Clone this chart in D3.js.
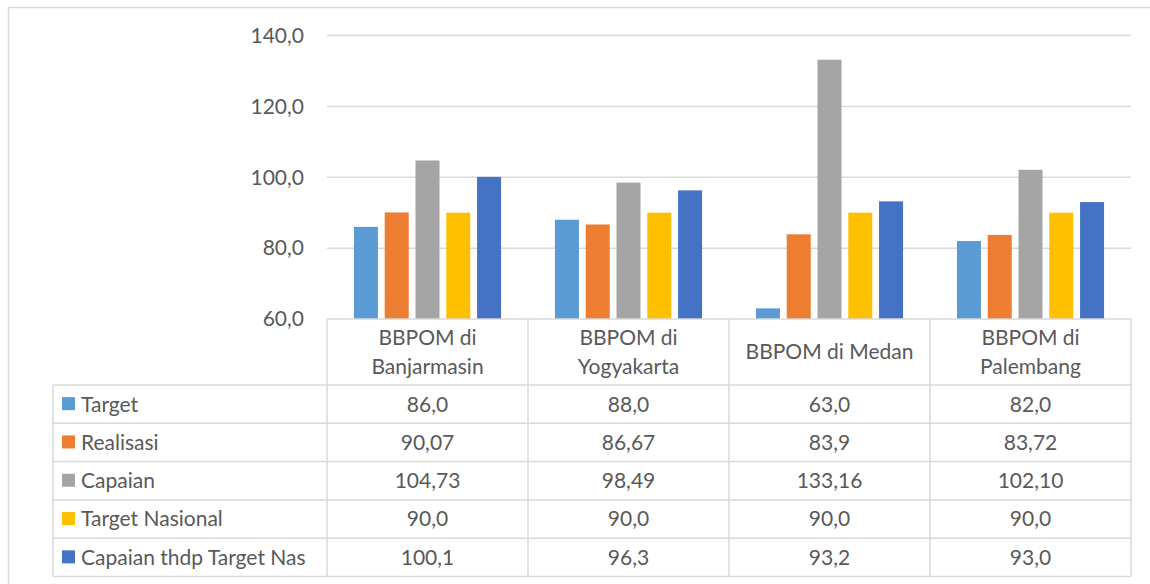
<!DOCTYPE html>
<html>
<head>
<meta charset="utf-8">
<script src="https://cdn.jsdelivr.net/npm/d3@7"></script>
<style>
  body { margin: 0; background: #fff; }
  svg { display: block; font-family: Lato, "Open Sans", sans-serif; }
</style>
</head>
<body>
<div id="chart"></div>
<script>
// data
const categories = [["BBPOM di", "Banjarmasin"], ["BBPOM di", "Yogyakarta"], ["BBPOM di Medan"], ["BBPOM di", "Palembang"]];
const seriesNames = ["Target", "Realisasi", "Capaian", "Target Nasional", "Capaian thdp Target Nas"];
const target = [86.0, 88.0, 63.0, 82.0];
const realisasi = [90.07, 86.67, 83.9, 83.72];
const capaian = [104.73, 98.49, 133.16, 102.10];
const targetNasional = [90.0, 90.0, 90.0, 90.0];
const capaianNas = [100.1, 96.3, 93.2, 93.0];
// labels as printed in the data table
const targetLabels = ["86,0", "88,0", "63,0", "82,0"];
const realisasiLabels = ["90,07", "86,67", "83,9", "83,72"];
const capaianLabels = ["104,73", "98,49", "133,16", "102,10"];
const targetNasionalLabels = ["90,0", "90,0", "90,0", "90,0"];
const capaianNasLabels = ["100,1", "96,3", "93,2", "93,0"];
const yTicks = [60, 80, 100, 120, 140];

const colors = ["#5b9bd5", "#ed7d31", "#a5a5a5", "#ffc000", "#4472c4"];
const values = [target, realisasi, capaian, targetNasional, capaianNas];
const labels = [targetLabels, realisasiLabels, capaianLabels, targetNasionalLabels, capaianNasLabels];

const width = 1150, height = 584;
const plotLeft = 327, plotRight = 1131, plotTop = 35.5, plotBottom = 319;
const headerBottom = 385, rowH = 38.3, tableLeft = 53;
const gridColor = "#d9d9d9", textColor = "#595959";
const fontSize = 21;

const locale = d3.formatLocale({decimal: ",", thousands: ".", grouping: [3], currency: ["", ""]});
const fmt = locale.format(".1f");

const svg = d3.select("#chart").append("svg")
    .attr("width", width)
    .attr("height", height);

// outer chart border (cropped on right and bottom)
svg.append("path")
    .attr("d", `M8.5,${height} V7.5 H${width}`)
    .attr("fill", "none")
    .attr("stroke", gridColor)
    .attr("stroke-width", 1.5);

const x0 = d3.scaleBand()
    .domain(d3.range(categories.length))
    .range([plotLeft, plotRight]);

const x1 = d3.scaleBand()
    .domain(d3.range(seriesNames.length))
    .range([0, x0.bandwidth()])
    .paddingInner(0.22)
    .paddingOuter(0.875);

const y = d3.scaleLinear()
    .domain([60, 140])
    .range([plotBottom, plotTop]);

// gridlines
svg.append("g")
    .selectAll("line")
    .data(yTicks.slice(1))
    .join("line")
    .attr("x1", plotLeft)
    .attr("x2", plotRight)
    .attr("y1", d => y(d))
    .attr("y2", d => y(d))
    .attr("stroke", gridColor)
    .attr("stroke-width", 1.5);

// y axis labels
svg.append("g")
    .selectAll("text")
    .data(yTicks)
    .join("text")
    .attr("x", 304)
    .attr("y", d => y(d))
    .attr("dy", "0.35em")
    .attr("text-anchor", "end")
    .attr("fill", textColor)
    .attr("font-size", fontSize)
    .text(d => fmt(d));

// bars
const groups = svg.append("g")
    .selectAll("g")
    .data(categories)
    .join("g")
    .attr("transform", (d, i) => `translate(${x0(i)},0)`);

groups.selectAll("rect")
    .data((d, i) => values.map((s, k) => ({k, v: s[i]})))
    .join("rect")
    .attr("x", d => x1(d.k))
    .attr("width", x1.bandwidth())
    .attr("y", d => y(d.v))
    .attr("height", d => y(60) - y(d.v))
    .attr("fill", d => colors[d.k]);

// data table
const table = svg.append("g")
    .attr("fill", "none")
    .attr("stroke", gridColor)
    .attr("stroke-width", 1.5);

const rowY = d => headerBottom + d * rowH;
const tableBottom = rowY(seriesNames.length);

// horizontal lines
table.append("line")
    .attr("x1", plotLeft).attr("x2", plotRight)
    .attr("y1", plotBottom).attr("y2", plotBottom);
table.selectAll("line.h")
    .data(d3.range(seriesNames.length + 1))
    .join("line")
    .attr("class", "h")
    .attr("x1", tableLeft).attr("x2", plotRight)
    .attr("y1", d => rowY(d)).attr("y2", d => rowY(d));

// vertical lines
table.selectAll("line.v")
    .data(d3.range(categories.length + 1))
    .join("line")
    .attr("class", "v")
    .attr("x1", d => d < categories.length ? x0(d) : plotRight)
    .attr("x2", d => d < categories.length ? x0(d) : plotRight)
    .attr("y1", plotBottom).attr("y2", tableBottom);
table.append("line")
    .attr("x1", tableLeft).attr("x2", tableLeft)
    .attr("y1", headerBottom).attr("y2", tableBottom);

// header labels
svg.append("g")
    .selectAll("text")
    .data(categories)
    .join("text")
    .attr("x", (d, i) => x0(i) + x0.bandwidth() / 2)
    .attr("y", (plotBottom + headerBottom) / 2)
    .attr("text-anchor", "middle")
    .attr("fill", textColor)
    .attr("font-size", fontSize)
    .each(function (d) {
        d3.select(this).selectAll("tspan")
            .data(d)
            .join("tspan")
            .attr("x", function () { return this.parentNode.getAttribute("x"); })
            .attr("dy", (t, j) => j === 0 ? (0.35 - (d.length - 1) * 0.7) + "em" : "1.4em")
            .text(t => t);
    });

// legend keys and series names
const rows = svg.append("g")
    .selectAll("g")
    .data(seriesNames)
    .join("g")
    .attr("transform", (d, i) => `translate(0,${rowY(i) + rowH / 2})`);

rows.append("rect")
    .attr("x", 62)
    .attr("y", -7)
    .attr("width", 13)
    .attr("height", 13)
    .attr("fill", (d, i) => colors[i]);

rows.append("text")
    .attr("x", 81)
    .attr("dy", "0.35em")
    .attr("fill", textColor)
    .attr("font-size", fontSize)
    .text(d => d);

rows.selectAll("text.val")
    .data((d, i) => labels[i])
    .join("text")
    .attr("class", "val")
    .attr("x", (d, j) => x0(j) + x0.bandwidth() / 2)
    .attr("dy", "0.35em")
    .attr("text-anchor", "middle")
    .attr("fill", textColor)
    .attr("font-size", fontSize)
    .text(d => d);
</script>
</body>
</html>
